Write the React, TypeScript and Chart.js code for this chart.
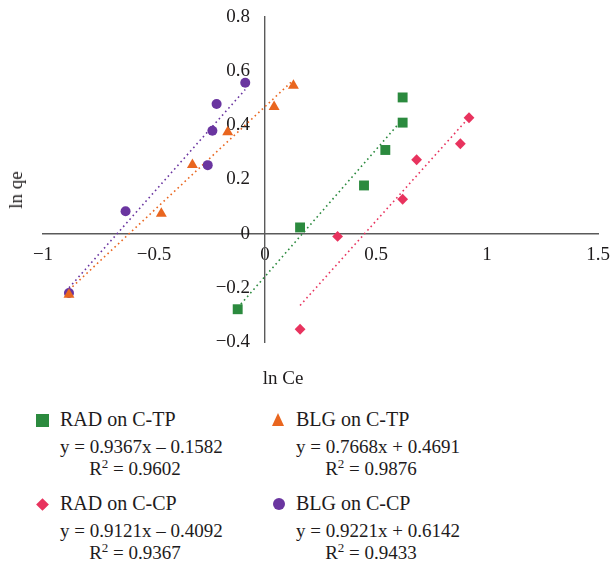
import React, { useEffect, useRef } from "react";
import { Chart, registerables } from "chart.js";

Chart.register(...registerables);

const seriesNames = ["RAD on C-TP", "BLG on C-TP", "RAD on C-CP", "BLG on C-CP"];
const seriesColors = ["#2b8a3e", "#e9661f", "#e8335e", "#6a35a0"];
const seriesShapes = ["rect", "triangle", "rectRot", "circle"];
const seriesRadius = [7, 6.3, 5.4, 5];

const radCtpX = [-0.123, 0.158, 0.446, 0.542, 0.62, 0.62];
const radCtpY = [-0.279, 0.023, 0.178, 0.309, 0.41, 0.503];
const blgCtpX = [-0.883, -0.467, -0.327, -0.168, 0.041, 0.128];
const blgCtpY = [-0.225, 0.074, 0.254, 0.375, 0.468, 0.547];
const radCcpX = [0.158, 0.327, 0.62, 0.683, 0.88, 0.919];
const radCcpY = [-0.353, -0.01, 0.127, 0.273, 0.332, 0.428];
const blgCcpX = [-0.883, -0.628, -0.258, -0.237, -0.218, -0.089];
const blgCcpY = [-0.219, 0.083, 0.253, 0.38, 0.479, 0.557];

const slopes = [0.9367, 0.7668, 0.9121, 0.9221];
const intercepts = [-0.1582, 0.4691, -0.4092, 0.6142];
const equations = [
  "y = 0.9367x \u2013 0.1582",
  "y = 0.7668x + 0.4691",
  "y = 0.9121x \u2013 0.4092",
  "y = 0.9221x + 0.6142",
];
const r2Values = ["0.9602", "0.9876", "0.9367", "0.9433"];

const xTicks = [-1, -0.5, 0, 0.5, 1, 1.5];
const yTicks = [-0.4, -0.2, 0, 0.2, 0.4, 0.6, 0.8];

const FONT = "'Liberation Serif', 'DejaVu Serif', serif";
const TEXT = "#1e1b1c";

function fmt(v: number): string {
  const r = Math.round(v * 10) / 10;
  const s = String(Math.abs(r));
  return r < 0 ? "\u2212" + s : s;
}

function Marker({ shape, color }: { shape: string; color: string }) {
  const base: React.CSSProperties = { position: "absolute" };
  if (shape === "rect")
    return <div style={{ ...base, width: 13, height: 13, background: color, left: -6.5, top: -6.5 }} />;
  if (shape === "triangle")
    return (
      <div
        style={{
          ...base,
          width: 0,
          height: 0,
          left: -6.5,
          top: -7,
          borderLeft: "6.5px solid transparent",
          borderRight: "6.5px solid transparent",
          borderBottom: `13px solid ${color}`,
        }}
      />
    );
  if (shape === "rectRot")
    return (
      <div
        style={{ ...base, width: 9, height: 9, background: color, left: -4.5, top: -4.5, transform: "rotate(45deg)" }}
      />
    );
  return <div style={{ ...base, width: 12, height: 12, borderRadius: "50%", background: color, left: -6, top: -6 }} />;
}

function LegendBlock({ i, left, top }: { i: number; left: number; top: number }) {
  const txt: React.CSSProperties = { position: "absolute", whiteSpace: "nowrap", lineHeight: "22px" };
  return (
    <div style={{ position: "absolute", left, top, fontFamily: FONT, fontSize: 19, color: TEXT }}>
      <div style={{ position: "absolute", left: 6.5, top: 12 }}>
        <Marker shape={seriesShapes[i]} color={seriesColors[i]} />
      </div>
      <div style={{ ...txt, left: 24, top: 0, fontSize: 20 }}>{seriesNames[i]}</div>
      <div style={{ ...txt, left: 24, top: 28, width: 150, textAlign: "center" }}>{equations[i]}</div>
      <div style={{ ...txt, left: 24, top: 50, width: 150, textAlign: "center" }}>
        R<sup style={{ fontSize: 13, verticalAlign: "7px", lineHeight: 0 }}>2</sup> = {r2Values[i]}
      </div>
    </div>
  );
}

export default function App() {
  const ref = useRef<HTMLCanvasElement>(null);
  useEffect(() => {
    if (!ref.current) return;
    const xs = [radCtpX, blgCtpX, radCcpX, blgCcpX];
    const ys = [radCtpY, blgCtpY, radCcpY, blgCcpY];
    const datasets: any[] = [];
    for (let i = 0; i < 4; i++) {
      const xmin = Math.min(...xs[i]);
      const xmax = Math.max(...xs[i]);
      datasets.push({
        label: seriesNames[i] + " trend",
        type: "line",
        data: [
          { x: xmin, y: slopes[i] * xmin + intercepts[i] },
          { x: xmax, y: slopes[i] * xmax + intercepts[i] },
        ],
        borderColor: seriesColors[i],
        borderWidth: 1.6,
        borderDash: [1.6, 3.2],
        pointRadius: 0,
        fill: false,
        order: 2,
      });
    }
    for (let i = 0; i < 4; i++) {
      datasets.push({
        label: seriesNames[i],
        type: "scatter",
        data: xs[i].map((x, k) => ({ x, y: ys[i][k] })),
        backgroundColor: seriesColors[i],
        borderColor: seriesColors[i],
        borderWidth: 0,
        pointStyle: seriesShapes[i],
        pointRadius: seriesRadius[i],
        order: 1,
      });
    }
    const chart = new Chart(ref.current, {
      type: "scatter",
      data: { datasets },
      options: {
        animation: false,
        responsive: false,
        layout: { padding: { left: 43, right: 13, top: 17, bottom: 53 } },
        plugins: { legend: { display: false }, tooltip: { enabled: false } },
        scales: {
          x: {
            type: "linear",
            min: -1,
            max: 1.5,
            position: { y: 0 } as any,
            grid: { display: false, drawTicks: false },
            border: { display: true, color: "#5a5a5a", width: 1.4 },
            afterBuildTicks: (s: any) => {
              s.ticks = xTicks.map((v) => ({ value: v }));
            },
            afterFit: (s: any) => {
              s.height = 0;
              s.paddingLeft = 0;
              s.paddingRight = 0;
              s.paddingTop = 0;
              s.paddingBottom = 0;
            },
            ticks: {
              callback: (v: any) => fmt(Number(v)),
              font: { family: FONT, size: 19 },
              color: TEXT,
              padding: 10,
              maxRotation: 0,
              autoSkip: false,
            },
          },
          y: {
            type: "linear",
            min: -0.4,
            max: 0.8,
            position: { x: 0 } as any,
            grid: { display: false, drawTicks: false },
            border: { display: true, color: "#5a5a5a", width: 1.4 },
            afterBuildTicks: (s: any) => {
              s.ticks = yTicks.map((v) => ({ value: v }));
            },
            afterFit: (s: any) => {
              s.width = 0;
              s.paddingLeft = 0;
              s.paddingRight = 0;
              s.paddingTop = 0;
              s.paddingBottom = 0;
            },
            ticks: {
              callback: (v: any) => fmt(Number(v)) + "\u2002\u2009\u200A",
              font: { family: FONT, size: 19 },
              color: TEXT,
              padding: 0,
              autoSkip: false,
            },
          },
        },
      },
    });
    return () => chart.destroy();
  }, []);
  return (
    <div style={{ position: "absolute", left: 0, top: 0, width: 611, height: 561, background: "#fff", overflow: "hidden" }}>
      <canvas ref={ref} width={611} height={395} style={{ position: "absolute", left: 0, top: 0 }} />
      <div
        style={{
          position: "absolute",
          left: 16,
          top: 190,
          transform: "translate(-50%, -50%) rotate(-90deg)",
          fontFamily: FONT,
          fontSize: 19,
          color: TEXT,
          whiteSpace: "nowrap",
        }}
      >
        ln qe
      </div>
      <div
        style={{
          position: "absolute",
          left: 283,
          top: 378,
          transform: "translate(-50%, -50%)",
          fontFamily: FONT,
          fontSize: 19,
          color: TEXT,
          whiteSpace: "nowrap",
        }}
      >
        ln Ce
      </div>
      <LegendBlock i={0} left={36} top={408} />
      <LegendBlock i={1} left={272} top={408} />
      <LegendBlock i={2} left={36} top={492} />
      <LegendBlock i={3} left={272} top={492} />
    </div>
  );
}
